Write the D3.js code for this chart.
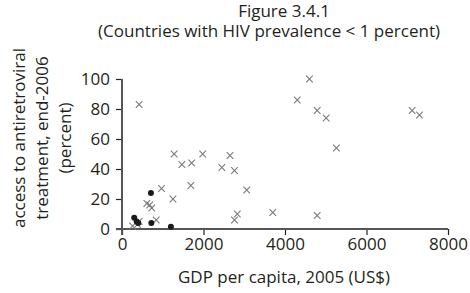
<!DOCTYPE html>
<meta charset="utf-8">
<head>
<script src="https://cdn.jsdelivr.net/npm/d3@7"></script>
<style>
body { margin: 0; background: #fff; }
text { font-family: "Open Sans", sans-serif; font-size: 17px; fill: #231f20; }
.axis text { font-size: 17px; fill: #231f20; }
.axis line { stroke: #231f20; stroke-width: 1.2; }
.spine { stroke: #555; stroke-width: 2; }
</style>
</head>
<body>
<script>

// data
var gdpTicks = [0, 2000, 4000, 6000, 8000];
var accessTicks = [0, 20, 40, 60, 80, 100];

// countries shown with x markers
var crossGdp    = [420, 4300, 4600, 4790, 5010, 5260, 4790, 7120, 7300,
                   1280, 1470, 1710, 1980, 2650, 2450, 2760, 3060, 970, 1690,
                   1250, 3700, 2830, 2760, 610, 680, 730, 840, 420, 260, 380];
var crossAccess = [83, 86, 100, 79, 74, 54, 9, 79, 76,
                   50, 43, 44, 50, 49, 41, 39, 26, 27, 29,
                   20, 11, 10, 6, 17, 16, 14, 6, 5, 2, 3];

// countries shown with filled dots
var dotGdp    = [300, 360, 400, 710, 720, 1200];
var dotAccess = [7.5, 5, 4, 24, 4, 1.5];

var width = 470, height = 293;

var svg = d3.select("body").append("svg")
    .attr("width", width)
    .attr("height", height);

var x = d3.scaleLinear().domain([0, 8000]).range([122, 448]);
var y = d3.scaleLinear().domain([0, 100]).range([229, 79]);

// axes
var xAxis = d3.axisBottom(x).tickValues(gdpTicks).tickSize(6).tickSizeOuter(0).tickFormat(d3.format("d"));
var yAxis = d3.axisLeft(y).tickValues(accessTicks).tickSize(6).tickSizeOuter(0).tickPadding(6);

svg.append("g")
    .attr("class", "axis")
    .attr("transform", "translate(0," + y(0) + ")")
    .call(xAxis)
    .call(function(g) { g.select(".domain").remove(); })
    .selectAll("text").attr("fill", "#231f20");

svg.append("g")
    .attr("class", "axis")
    .attr("transform", "translate(" + x(0) + ",0)")
    .call(yAxis)
    .call(function(g) { g.select(".domain").remove(); })
    .selectAll("text").attr("fill", "#231f20");

// axis lines, each running through the other's zero tick
svg.append("line").attr("class", "spine")
    .attr("x1", x(0) - 6).attr("x2", x(8000))
    .attr("y1", y(0)).attr("y2", y(0));
svg.append("line").attr("class", "spine")
    .attr("x1", x(0)).attr("x2", x(0))
    .attr("y1", y(100)).attr("y2", y(0) + 6);

// points
var crosses = crossGdp.map(function(d, i) { return [d, crossAccess[i]]; });
var dots = dotGdp.map(function(d, i) { return [d, dotAccess[i]]; });

svg.append("g").selectAll("path")
    .data(crosses)
  .enter().append("path")
    .attr("d", d3.symbol().type(d3.symbolX).size(30))
    .attr("transform", function(d) { return "translate(" + x(d[0]) + "," + y(d[1]) + ")"; })
    .attr("fill", "none")
    .attr("stroke", "#7a7a7a")
    .attr("stroke-width", 1.1);

svg.append("g").selectAll("circle")
    .data(dots)
  .enter().append("circle")
    .attr("cx", function(d) { return x(d[0]); })
    .attr("cy", function(d) { return y(d[1]); })
    .attr("r", 3)
    .attr("fill", "#1a1a1a");

// titles
svg.append("text").attr("x", 284).attr("y", 17).attr("text-anchor", "middle")
    .text("Figure 3.4.1");
svg.append("text").attr("x", 269).attr("y", 37).attr("text-anchor", "middle")
    .text("(Countries with HIV prevalence < 1 percent)");

svg.append("text").attr("x", 284).attr("y", 283).attr("text-anchor", "middle")
    .text("GDP per capita, 2005 (US$)");

var yLabel = ["access to antiretroviral", "treatment, end-2006", "(percent)"];
svg.selectAll(".ylab")
    .data(yLabel)
  .enter().append("text")
    .attr("class", "ylab")
    .attr("text-anchor", "middle")
    .attr("transform", function(d, i) { return "translate(" + (25 + i * 23) + ",138) rotate(-90)"; })
    .text(function(d) { return d; });

</script>
</body>
